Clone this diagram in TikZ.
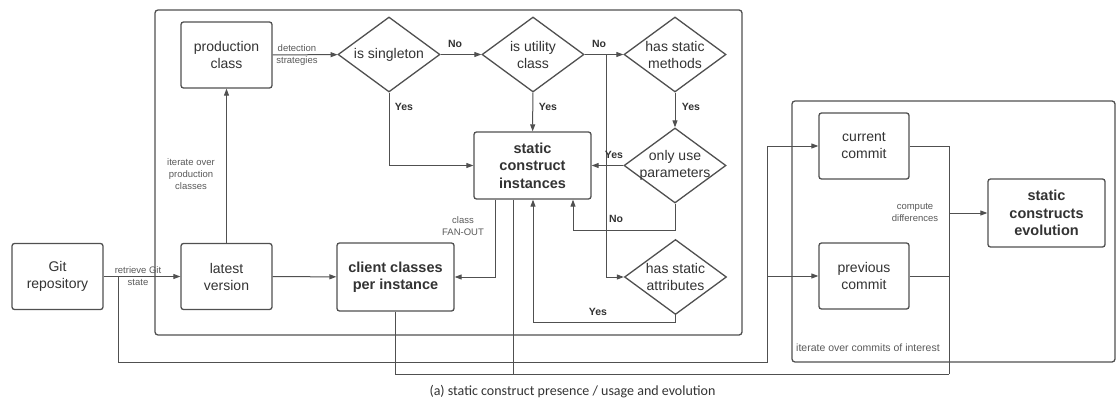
\documentclass[tikz,border=0pt]{standalone}
\usepackage{fontspec}
\setmainfont{Liberation Sans}
\newfontfamily\capfont{Carlito}
\usetikzlibrary{shapes.geometric,arrows.meta}
\definecolor{lc}{HTML}{505050}
\definecolor{tc}{HTML}{333333}
\definecolor{nc}{HTML}{5A5A5A}
\newcommand\mainlbl{\fontsize{14}{17}\selectfont}
\newcommand\boldlbl{\fontsize{14.5}{17.5}\selectfont\bfseries}
\newcommand\notelbl{\fontsize{9.5}{12}\selectfont}
\newcommand\ynlbl{\fontsize{10.5}{12}\selectfont\bfseries}
\tikzset{
  x=1pt, y=-1pt,
  frame/.style={draw=lc, line width=1.3pt, rounded corners=3pt, inner sep=0pt},
  box/.style={draw=lc, line width=1.3pt, rounded corners=2.5pt, minimum width=91pt,
    minimum height=66pt, align=center, text=tc, font=\mainlbl, inner sep=2pt},
  bbox/.style={box, font=\boldlbl, minimum width=117pt, minimum height=68pt},
  dia/.style={draw=lc, line width=1.3pt, shape=diamond, minimum width=102pt,
    minimum height=75pt, inner sep=0pt},
  dtext/.style={align=center, text=tc, font=\mainlbl, inner sep=0pt},
  wire/.style={draw=lc, line width=1pt},
  arr/.style={wire, -{Triangle[length=7pt,width=5pt]}},
  note/.style={font=\notelbl, text=nc, align=center, inner sep=0pt},
  yn/.style={font=\ynlbl, text=tc, inner sep=0pt},
}
\begin{document}
\begin{tikzpicture}
\useasboundingbox (0,0) rectangle (1117,412);
\fill[white] (0,0) rectangle (1117,412);

% containers
\node[frame, minimum width=587pt, minimum height=325pt] (inner) at (448.5,172.5) {};
\node[frame, minimum width=323pt, minimum height=261pt] (outer) at (953.5,231.5) {};

% boxes
\node[box] (git) at (57.5,276.5) {Git\\repository};
\node[box] (latest) at (226.5,276.5) {latest\\version};
\node[box] (prod) at (226.5,55) {production\\class};
\node[bbox] (client) at (395.5,277) {client classes\\per instance};
\node[bbox, minimum height=67pt] (sci) at (532.5,165.5) {static\\construct\\instances};
\node[box, minimum width=90pt] (cur) at (864,146) {current\\commit};
\node[box, minimum width=90pt] (prev) at (864,276) {previous\\commit};
\node[bbox] (evo) at (1046.5,213) {static\\constructs\\evolution};

% decisions
\node[dia, label={[dtext]center:is singleton}] (single) at (389,54.5) {};
\node[dia, label={[dtext]center:{is utility\\class}}] (util) at (533,54.5) {};
\node[dia, label={[dtext]center:{has static\\methods}}] (meth) at (675,54.5) {};
\node[dia, label={[dtext]center:{only use\\parameters}}] (par) at (675,165.5) {};
\node[dia, label={[dtext]center:{has static\\attributes}}] (attr) at (675.5,277) {};

% routing points
\coordinate (gitjoin) at (118,276.5);
\coordinate (gitlow) at (118,362);
\coordinate (cmtlow) at (767,362);
\coordinate (cmtcur) at (767,146);
\coordinate (cmtprev) at (767,276);
\coordinate (singlow) at (389,165.5);
\coordinate (utilfork) at (606,54.5);
\coordinate (utilfork2) at (606,277);
\coordinate (parlow) at (675,230);
\coordinate (parleft) at (573,230);
\coordinate (attrlow) at (675.5,322);
\coordinate (attrleft) at (533,322);
\coordinate (fanlow) at (495,277);
\coordinate (scidown) at (513,374);
\coordinate (clidown) at (395.5,374);
\coordinate (diffbot) at (949,374);
\coordinate (difftop) at (949,146);
\coordinate (diffprev) at (949,276);
\coordinate (diffmid) at (949,213);

% main flow
\draw[arr] (git) -- (latest);
\draw[arr] (latest) -- (prod);
\draw[arr] (prod) -- (single);
\draw[arr] (single) -- (util);
\draw[arr] (single.south) -- (singlow) -- (sci.west);
\draw[arr] (util) -- (sci);
\draw[arr] (util) -- (meth);
\draw[arr] (utilfork) -- (utilfork2) -- (attr.west);
\draw[arr] (meth) -- (par);
\draw[arr] (par) -- (sci);
\draw[arr] (par.south) -- (parlow) -- (parleft) -- (parleft |- sci.south);
\draw[arr] (attr.south) -- (attrlow) -- (attrleft) -- (attrleft |- sci.south);
\draw[arr] (fanlow |- sci.south) -- (fanlow) -- (client.east);
\draw[arr] (latest) -- (client);

% commit history
\draw[wire] (gitjoin) -- (gitlow) -- (cmtlow) -- (cmtcur);
\draw[arr] (cmtcur) -- (cur.west);
\draw[arr] (cmtprev) -- (prev.west);
\draw[wire] (scidown |- sci.south) -- (scidown) -- (diffbot);
\draw[wire] (client.south) -- (clidown) -- (scidown);
\draw[wire] (cur.east) -- (difftop) -- (diffbot);
\draw[wire] (prev.east) -- (diffprev);
\draw[arr] (diffmid) -- (evo.west);

% edge labels
\node[note] (lretr) at (138,276) {retrieve Git\\[-0.5pt]state};
\node[note] (liter) at (191,174) {iterate over\\production\\classes};
\node[note] (ldet) at (297,55) {detection\\strategies};
\node[note] (lfan) at (463,226) {class\\FAN-OUT};
\node[note] (ldiff) at (915,212.5) {compute\\differences};
\node[note, font=\fontsize{10.5}{12}\selectfont, anchor=west] (lcom) at (796,348) {iterate over commits of interest};
\node[yn] (n1) at (455,44) {No};
\node[yn] (y1) at (404,107) {Yes};
\node[yn] (n2) at (599,44) {No};
\node[yn] (y2) at (548,107) {Yes};
\node[yn] (y3) at (691,107) {Yes};
\node[yn] (y4) at (614,155) {Yes};
\node[yn] (n3) at (616,219) {No};
\node[yn] (y5) at (598,312) {Yes};

% caption
\node[font=\capfont\fontsize{14}{16}\selectfont, text=tc, inner sep=0pt] (cap) at (572.5,392)
  {(a) static construct presence / usage and evolution};
\end{tikzpicture}
\end{document}
